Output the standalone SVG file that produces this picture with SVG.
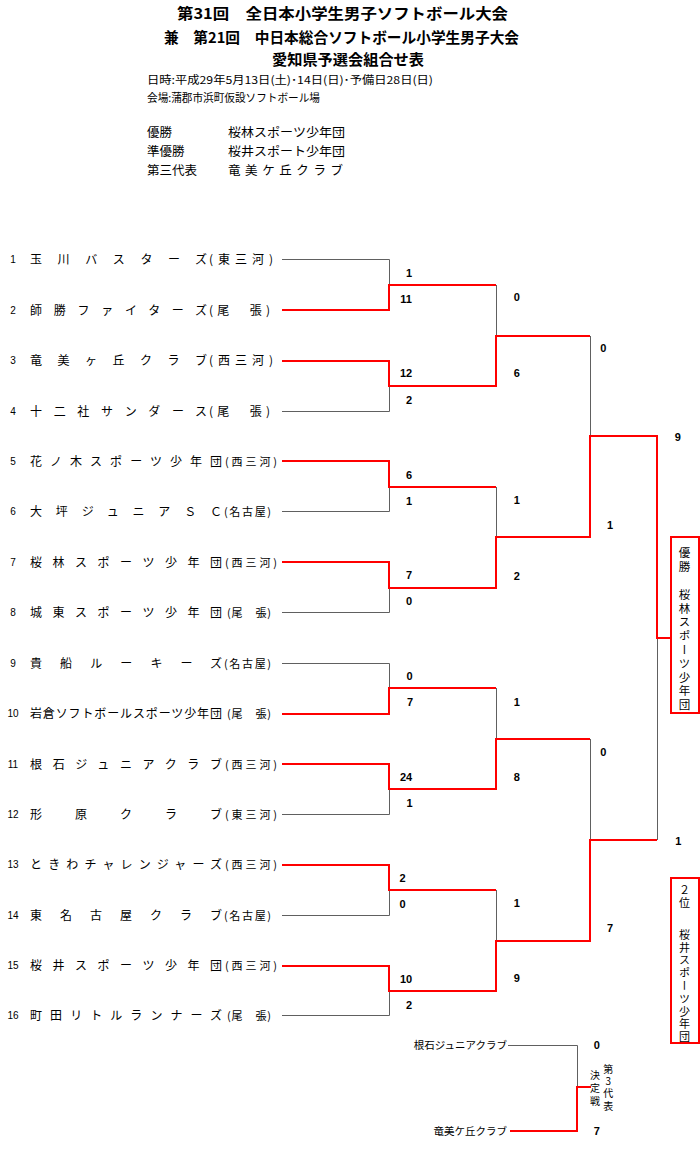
<svg xmlns="http://www.w3.org/2000/svg" width="700" height="1161" viewBox="0 0 700 1161">
<style>
text { font-family: "Noto Sans CJK JP", "Noto Sans", sans-serif; fill: #000; }
.title { font-size: 15px; font-weight: bold; }
.info { font-size: 11px; }
.win { font-size: 12.5px; }
.name { font-size: 12px; }
.reg { font-size: 11px; }
.regw { font-size: 12px; }
.num { font-family: "Liberation Sans", Arial, sans-serif; font-size: 10px; text-anchor: middle; }
.sc { font-family: "Liberation Sans", Arial, sans-serif; font-size: 11px; font-weight: bold; text-anchor: middle; }
.small { font-size: 10.5px; text-anchor: end; }
.vt { writing-mode: vertical-rl; font-size: 11.5px; }
.vs { writing-mode: vertical-rl; font-size: 10px; text-orientation: upright; }
.g { stroke: #606060; stroke-width: 1; fill: none; }
.r { stroke: #ff0000; stroke-width: 2; fill: none; }
.box { stroke: #ff0000; stroke-width: 2; fill: #fff; }
</style>
<rect width="700" height="1161" fill="#fff"/>
<g id="header">
<text class="title" x="177" y="18.7" textLength="331" lengthAdjust="spacingAndGlyphs">第31回　全日本小学生男子ソフトボール大会</text>
<text class="title" x="164" y="42.7" textLength="355" lengthAdjust="spacingAndGlyphs">兼　第21回　中日本総合ソフトボール小学生男子大会</text>
<text class="title" x="272" y="64.7" textLength="152" lengthAdjust="spacingAndGlyphs">愛知県予選会組合せ表</text>
<text class="info" x="147" y="84.2" textLength="286" lengthAdjust="spacingAndGlyphs">日時:平成29年5月13日(土)･14日(日)･予備日28日(日)</text>
<text class="info" x="147" y="102.2" textLength="173" lengthAdjust="spacingAndGlyphs">会場:蒲郡市浜町仮設ソフトボール場</text>
<text class="win" x="147" y="136.8">優勝</text>
<text class="win" x="228" y="136.8" textLength="117" lengthAdjust="spacingAndGlyphs">桜林スポーツ少年団</text>
<text class="win" x="147" y="156.3">準優勝</text>
<text class="win" x="228" y="156.3" textLength="117" lengthAdjust="spacingAndGlyphs">桜井スポート少年団</text>
<text class="win" x="147" y="174.8">第三代表</text>
<text class="win" x="228" y="174.8" textLength="115" lengthAdjust="spacing">竜美ケ丘クラブ</text>
</g>
<g id="connectors">
<path class="g" d="M282 259.5H389.5V285M282 411.5H389.5V386M282 511.5H389.5V487M282 612.5H389.5V588M282 663.5H389.5V688M282 814.5H389.5V789M282 915.5H389.5V890M282 1015.5H389.5V991M496.5 285V336M496.5 487V537M496.5 688V739M496.5 890V941M590.5 336V436M590.5 739V840M657.5 638V840M508 1045.5H577.5V1087"/>
<path class="r" d="M282 310H389V285H496"/>
<path class="r" d="M282 361H389V386H496V336H590"/>
<path class="r" d="M282 461H389V487H496"/>
<path class="r" d="M282 562H389V588H496V537H590V436H657V638H671"/>
<path class="r" d="M282 714H389V688H496"/>
<path class="r" d="M282 764H389V789H496V739H590"/>
<path class="r" d="M282 865H389V890H496"/>
<path class="r" d="M282 966H389V991H496V941H590V840H657"/>
<path class="r" d="M510 1131H577V1087H591"/>
</g>
<g id="team-1"><text class="num" x="13" y="263">1</text><text class="name" x="30" y="264" textLength="177" lengthAdjust="spacing">玉川バスターズ</text><text class="regw" x="209" y="264" textLength="64" lengthAdjust="spacing">(東三河)</text></g>
<g id="team-2"><text class="num" x="13" y="313.5">2</text><text class="name" x="30" y="314.5" textLength="177" lengthAdjust="spacing">師勝ファイターズ</text><text class="regw" x="209" y="314.5" textLength="61" lengthAdjust="spacing">(尾　張)</text></g>
<g id="team-3"><text class="num" x="13" y="364">3</text><text class="name" x="30" y="365" textLength="177" lengthAdjust="spacing">竜美ヶ丘クラブ</text><text class="regw" x="209" y="365" textLength="64" lengthAdjust="spacing">(西三河)</text></g>
<g id="team-4"><text class="num" x="13" y="414.5">4</text><text class="name" x="30" y="415.5" textLength="177" lengthAdjust="spacing">十二社サンダース</text><text class="regw" x="209" y="415.5" textLength="61" lengthAdjust="spacing">(尾　張)</text></g>
<g id="team-5"><text class="num" x="13" y="464.5">5</text><text class="name" x="30" y="465.5" textLength="192" lengthAdjust="spacing">花ノ木スポーツ少年団</text><text class="reg" x="225" y="465.5" textLength="52" lengthAdjust="spacing">(西三河)</text></g>
<g id="team-6"><text class="num" x="13" y="515">6</text><text class="name" x="30" y="516" textLength="192" lengthAdjust="spacing">大坪ジュニアＳＣ</text><text class="reg" x="224" y="516" textLength="47" lengthAdjust="spacing">(名古屋)</text></g>
<g id="team-7"><text class="num" x="13" y="565.5">7</text><text class="name" x="30" y="566.5" textLength="192" lengthAdjust="spacing">桜林スポーツ少年団</text><text class="reg" x="225" y="566.5" textLength="52" lengthAdjust="spacing">(西三河)</text></g>
<g id="team-8"><text class="num" x="13" y="616">8</text><text class="name" x="30" y="617" textLength="192" lengthAdjust="spacing">城東スポーツ少年団</text><text class="reg" x="227" y="617" textLength="44" lengthAdjust="spacing">(尾　張)</text></g>
<g id="team-9"><text class="num" x="13" y="666.5">9</text><text class="name" x="30" y="667.5" textLength="192" lengthAdjust="spacing">貴船ルーキーズ</text><text class="reg" x="224" y="667.5" textLength="47" lengthAdjust="spacing">(名古屋)</text></g>
<g id="team-10"><text class="num" x="13" y="717">10</text><text class="name" x="30" y="718" textLength="192" lengthAdjust="spacing">岩倉ソフトボールスポーツ少年団</text><text class="reg" x="227" y="718" textLength="44" lengthAdjust="spacing">(尾　張)</text></g>
<g id="team-11"><text class="num" x="13" y="767.5">11</text><text class="name" x="30" y="768.5" textLength="192" lengthAdjust="spacing">根石ジュニアクラブ</text><text class="reg" x="225" y="768.5" textLength="52" lengthAdjust="spacing">(西三河)</text></g>
<g id="team-12"><text class="num" x="13" y="818">12</text><text class="name" x="30" y="819" textLength="192" lengthAdjust="spacing">形原クラブ</text><text class="reg" x="225" y="819" textLength="52" lengthAdjust="spacing">(東三河)</text></g>
<g id="team-13"><text class="num" x="13" y="868">13</text><text class="name" x="30" y="869" textLength="192" lengthAdjust="spacing">ときわチャレンジャーズ</text><text class="reg" x="225" y="869" textLength="52" lengthAdjust="spacing">(西三河)</text></g>
<g id="team-14"><text class="num" x="13" y="918.5">14</text><text class="name" x="30" y="919.5" textLength="192" lengthAdjust="spacing">東名古屋クラブ</text><text class="reg" x="224" y="919.5" textLength="47" lengthAdjust="spacing">(名古屋)</text></g>
<g id="team-15"><text class="num" x="13" y="969">15</text><text class="name" x="30" y="970" textLength="192" lengthAdjust="spacing">桜井スポーツ少年団</text><text class="reg" x="225" y="970" textLength="52" lengthAdjust="spacing">(西三河)</text></g>
<g id="team-16"><text class="num" x="13" y="1019">16</text><text class="name" x="30" y="1020" textLength="192" lengthAdjust="spacing">町田リトルランナーズ</text><text class="reg" x="227" y="1020" textLength="44" lengthAdjust="spacing">(尾　張)</text></g>
<g id="scores">
<text class="sc" x="409" y="276.7">1</text><text class="sc" x="406" y="302.7">11</text>
<text class="sc" x="406" y="377.3">12</text><text class="sc" x="409" y="404">2</text>
<text class="sc" x="409" y="478.7">6</text><text class="sc" x="409" y="504.7">1</text>
<text class="sc" x="409" y="579.3">7</text><text class="sc" x="409" y="605">0</text>
<text class="sc" x="409.5" y="680">0</text><text class="sc" x="410" y="706">7</text>
<text class="sc" x="406" y="780.7">24</text><text class="sc" x="409.5" y="807.3">1</text>
<text class="sc" x="402.5" y="882">2</text><text class="sc" x="402.5" y="908">0</text>
<text class="sc" x="406" y="982.7">10</text><text class="sc" x="409" y="1008.7">2</text>
<text class="sc" x="516.7" y="301.3">0</text><text class="sc" x="516.7" y="377.3">6</text>
<text class="sc" x="516.7" y="504">1</text><text class="sc" x="516.7" y="579.7">2</text>
<text class="sc" x="516.7" y="706">1</text><text class="sc" x="516.7" y="780.7">8</text>
<text class="sc" x="516.7" y="907.3">1</text><text class="sc" x="516.7" y="982.3">9</text>
<text class="sc" x="603.3" y="352.3">0</text><text class="sc" x="610" y="529">1</text>
<text class="sc" x="603.3" y="755.7">0</text><text class="sc" x="610" y="932.3">7</text>
<text class="sc" x="677.7" y="440.7">9</text><text class="sc" x="678.3" y="844.7">1</text>
<text class="sc" x="596.7" y="1049">0</text><text class="sc" x="596.7" y="1134.7">7</text>
</g>
<g id="champion">
<rect class="box" x="671" y="537" width="28" height="176"/>
<text class="vt" x="684.5" y="547.3" style="letter-spacing:2.3px">優勝　桜林スポーツ少年団</text>
</g>
<g id="runner-up">
<rect class="box" x="671" y="878" width="28" height="165"/>
<text class="vt" x="684.5" style="font-size:11px"><tspan x="684.5" y="884.5" style="letter-spacing:2.3px">２位</tspan><tspan x="684.5" y="928.8" style="letter-spacing:1.8px">桜井スポーツ少年団</tspan></text>
</g>
<g id="third-place">
<text class="small" x="507" y="1049">根石ジュニアクラブ</text>
<text class="small" x="507" y="1135">竜美ケ丘クラブ</text>
<text class="vs" x="608.3" y="1064.3" style="letter-spacing:2.2px">第3代表</text>
<text class="vs" x="595" y="1070" style="letter-spacing:3px">決定戦</text>
</g>
</svg>
